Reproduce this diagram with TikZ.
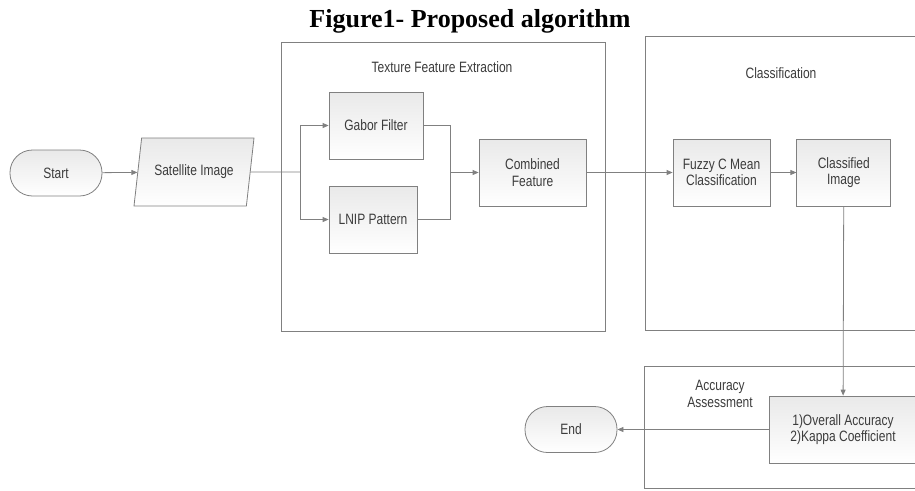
\documentclass[tikz,border=0pt]{standalone}
\usepackage{fontspec}
\usepackage{xcolor}
\usepackage{tikz}
\usetikzlibrary{positioning,arrows.meta,shapes.geometric}

\newfontfamily\labelfont[FakeStretch=0.8]{Liberation Sans}
\newfontfamily\titlefont{Liberation Serif}
\definecolor{linegray}{HTML}{808080}
\definecolor{txtgray}{HTML}{3C3C3C}
\definecolor{boxtop}{HTML}{E9E9E9}

\begin{document}
\begin{tikzpicture}[
        x=1pt, y=-1pt,
        base/.style={draw=linegray, line width=0.8pt, top color=boxtop, bottom color=white,
                     font=\labelfont\fontsize{15}{16.5}\selectfont, text=txtgray, align=center, inner sep=2pt},
        proc/.style={base, rectangle, minimum height=67},
        term/.style={base, rectangle, rounded corners=22.5, minimum width=92, minimum height=46},
        io/.style={base, trapezium, trapezium left angle=67, trapezium right angle=113,
                   minimum height=68, minimum width=120, trapezium stretches body},
        grp/.style={draw=linegray, line width=0.8pt, fill=white, rectangle, inner sep=0pt},
        grplabel/.style={font=\labelfont\fontsize{15}{16.5}\selectfont, text=txtgray, align=center},
        arr/.style={-{Triangle[length=6pt,width=5pt]}, draw=linegray, line width=0.8pt},
        link/.style={draw=linegray, line width=0.8pt},
    ]
        \clip (0,0) rectangle (915,490);

        % title
        \node[anchor=base, font=\titlefont\bfseries\fontsize{26}{28}\selectfont] (title) at (470,27)
            {Figure1- Proposed algorithm};

        % group frames
        \node[grp, minimum width=324, minimum height=289] (texgrp) at (443,186.5) {};
        \node[grp, minimum width=290, minimum height=294] (clsgrp) at (790,183) {};
        \node[grp, minimum width=290, minimum height=122] (accgrp) at (789,427) {};
        \node[grplabel] (textitle) at (442,67) {Texture Feature Extraction};
        \node[grplabel] (clstitle) at (781,73) {Classification};
        \node[grplabel] (acctitle) at (720,394) {Accuracy\\Assessment};

        % blocks
        \node[term] (start) at (56,173) {Start};
        \node[io] (sat) at (194,172) {Satellite Image};
        \node[proc, minimum width=94] (gabor) at (376,125.5) {Gabor Filter};
        \node[proc, minimum width=88] (lnip) at (373,219.5) {LNIP Pattern};
        \node[proc, minimum width=107] (comb) at (532.5,172.5) {Combined\\Feature};
        \node[proc, minimum width=97] (fcm) at (721.5,172.5) {Fuzzy C Mean\\Classification};
        \node[proc, minimum width=94, right=26 of fcm] (cls) {Classified\\Image};
        \node[proc, minimum width=148] (acc) at (843,429.5) {1)Overall Accuracy\\2)Kappa Coefficient};
        \node[term] (end) at (571,429.5) {End};

        \coordinate (split) at (300,172);
        \coordinate (merge) at (450,172.5);

        % connectors
        \draw[arr] (start) -- (sat);
        \draw[link] (sat) -- (split);
        \draw[arr] (split) |- (gabor);
        \draw[arr] (split) |- (lnip);
        \draw[link] (gabor) -| (merge);
        \draw[link] (lnip) -| (merge);
        \draw[arr] (merge) -- (comb);
        \draw[arr] (comb) -- (fcm);
        \draw[arr] (fcm) -- (cls);
        \draw[arr] (cls) -- (acc);
        \draw[arr] (acc) -- (end);
    \end{tikzpicture}
\end{document}
